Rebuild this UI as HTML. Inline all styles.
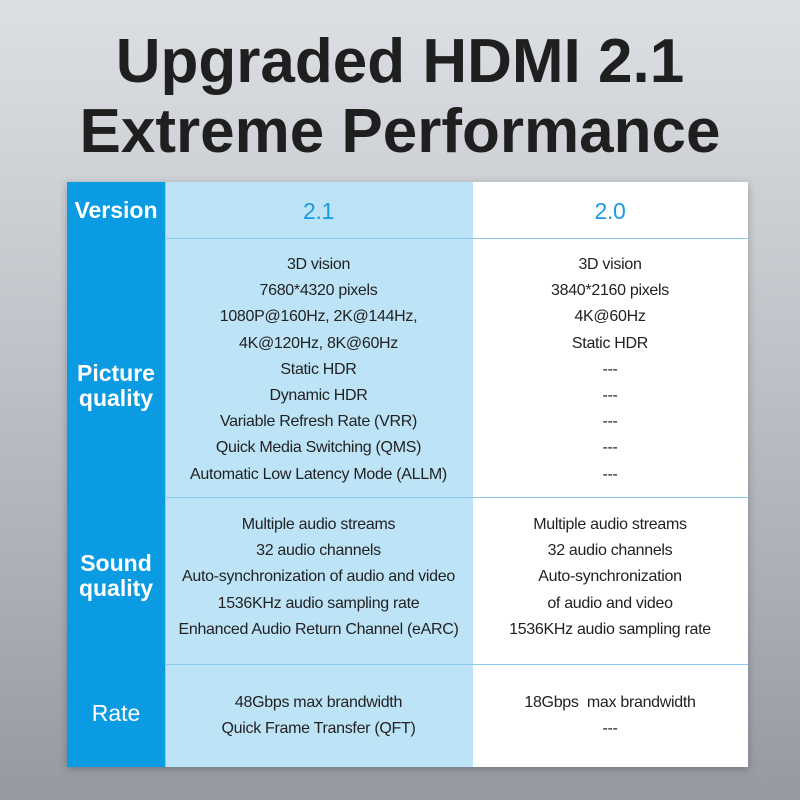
<!DOCTYPE html>
<html><head><meta charset="utf-8"><style>
body{margin:0;width:800px;height:800px;overflow:hidden;background:linear-gradient(180deg,#dcdfe3 0%,#c9ccd1 30%,#a9adb4 75%,#9599a2 100%);font-family:"Liberation Sans",sans-serif;position:relative}
.t{position:absolute;left:0;width:800px;text-align:center;font-weight:bold;color:#1f1f1f;font-size:62px}
.tab{position:absolute;left:67px;top:182px;width:681px;height:585px;box-shadow:0 2px 8px rgba(0,0,0,.25)}
.c{position:absolute;box-sizing:border-box}
.c1{left:0;width:98px;background:#0a9be3;color:#fff;font-size:23px;font-weight:bold;display:flex;align-items:center;justify-content:center;text-align:center;line-height:25px}
.c2{left:98px;width:307px;background:#bde3f7;border-left:1px solid #8ccbee}
.c3{left:405px;width:276px;background:#fff;border-left:1px solid #bde3f7}
.txt{position:absolute;left:0;right:0;text-align:center;font-size:16px;color:#222;line-height:26.2px;letter-spacing:-0.3px}
.hl{position:absolute;left:98px;width:583px;height:1px;background:#8ccbee}
</style></head><body>
<div class="t" style="top:26px">Upgraded HDMI 2.1</div>
<div class="t" style="top:96px">Extreme Performance</div>
<div class="tab">
<div class="c c1" style="top:0;height:585px"></div>
<div class="c c2" style="top:0;height:585px"></div>
<div class="c c3" style="top:0;height:585px"></div>
<div class="hl" style="top:56px"></div>
<div class="hl" style="top:315px"></div>
<div class="hl" style="top:482px"></div>
<div class="c c1" style="top:0;height:56px;background:none">Version</div>
<div class="c c1" style="top:74px;height:259px;background:none">Picture<br>quality</div>
<div class="c c1" style="top:310px;height:167px;background:none">Sound<br>quality</div>
<div class="c c1" style="top:480px;height:103px;background:none;font-weight:normal">Rate</div>
<div class="txt" style="left:98px;width:307px;right:auto;top:16px;font-size:23px;color:#1a9ae0">2.1</div>
<div class="txt" style="left:405px;width:276px;right:auto;top:16px;font-size:23px;color:#1a9ae0">2.0</div>
<div class="txt" style="left:98px;width:307px;right:auto;top:70px">3D vision<br>7680*4320 pixels<br>1080P@160Hz, 2K@144Hz,<br>4K@120Hz, 8K@60Hz<br>Static HDR<br>Dynamic HDR<br>Variable Refresh Rate (VRR)<br>Quick Media Switching (QMS)<br>Automatic Low Latency Mode (ALLM)</div>
<div class="txt" style="left:405px;width:276px;right:auto;top:70px">3D vision<br>3840*2160 pixels<br>4K@60Hz<br>Static HDR<br>---<br>---<br>---<br>---<br>---</div>
<div class="txt" style="left:98px;width:307px;right:auto;top:330px">Multiple audio streams<br>32 audio channels<br>Auto-synchronization of audio and video<br>1536KHz audio sampling rate<br>Enhanced Audio Return Channel (eARC)</div>
<div class="txt" style="left:405px;width:276px;right:auto;top:330px">Multiple audio streams<br>32 audio channels<br>Auto-synchronization<br>of audio and video<br>1536KHz audio sampling rate</div>
<div class="txt" style="left:98px;width:307px;right:auto;top:508px">48Gbps max brandwidth<br>Quick Frame Transfer (QFT)</div>
<div class="txt" style="left:405px;width:276px;right:auto;top:508px">18Gbps&nbsp; max brandwidth<br>---</div>
</div>
</body></html>
